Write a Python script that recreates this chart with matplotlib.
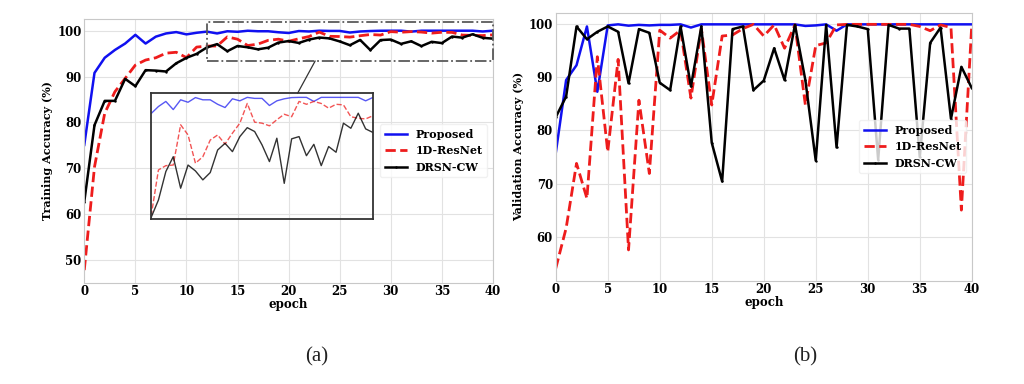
import numpy as np
import matplotlib.pyplot as plt
from matplotlib.patches import Rectangle, ConnectionPatch

plt.rcParams['font.family'] = 'DejaVu Serif'
plt.rcParams['font.weight'] = 'bold'

epochs = np.arange(41)

# (a) training accuracy (%)
train_proposed = [75.1, 90.8, 94.1, 95.8, 97.2, 99.1, 97.2, 98.7, 99.4, 99.7,
                  99.2, 99.55, 99.8, 99.4, 99.88, 99.76, 99.99, 99.88, 99.88, 99.66,
                  99.5, 99.93, 99.83, 100.0, 99.95, 99.95, 99.6, 99.83, 99.93, 99.99,
                  100.0, 100.0, 99.8, 100.0, 100.0, 100.0, 100.0, 100.0, 100.0, 99.83,
                  100.0]
train_resnet = [47.8, 70.3, 82.0, 86.7, 89.6, 92.5, 93.6, 94.1, 95.1, 95.3,
                94.13, 96.43, 96.64, 96.67, 98.65, 98.15, 96.76, 97.08, 97.9, 98.15,
                97.7, 98.24, 98.73, 99.7, 98.78, 98.73, 98.6, 98.9, 99.17, 99.05,
                99.8, 99.66, 99.8, 99.7, 99.47, 99.66, 99.63, 99.05, 98.97, 98.94,
                99.1]
train_drsn = [62.7, 79.4, 84.7, 84.7, 89.5, 87.9, 91.4, 91.3, 91.1, 92.9,
              94.08, 94.95, 96.35, 97.08, 95.53, 96.67, 96.38, 95.94, 96.3, 97.41,
              97.74, 97.33, 98.07, 98.51, 98.32, 97.66, 96.84, 97.99, 95.77, 97.96,
              98.07, 97.13, 97.69, 96.64, 97.58, 97.3, 98.73, 98.48, 99.22, 98.45,
              98.27]

# (b) validation accuracy (%)
val_proposed = [75.7, 89.5, 92.3, 99.6, 87.3, 99.8, 100.0, 99.75, 99.9, 99.8,
                99.9, 99.9, 100.0, 99.4, 100.0, 100.0, 100.0, 100.0, 100.0, 100.0,
                100.0, 100.0, 100.0, 100.0, 99.7, 99.8, 100.0, 98.8, 100.0, 100.0,
                100.0, 100.0, 100.0, 100.0, 100.0, 100.0, 100.0, 100.0, 100.0, 100.0,
                100.0]
val_resnet = [54.0, 61.6, 73.8, 67.2, 93.9, 76.0, 93.4, 57.5, 85.7, 71.9,
              98.9, 97.4, 98.9, 86.1, 99.2, 84.8, 97.8, 98.0, 99.2, 100.0,
              97.8, 99.9, 95.5, 99.9, 84.8, 96.0, 96.5, 99.9, 100.0, 100.0,
              100.0, 100.0, 100.0, 100.0, 100.0, 99.6, 98.8, 99.9, 99.4, 65.0,
              99.9]
val_drsn = [82.5, 86.4, 99.6, 97.2, 98.6, 99.6, 98.6, 88.9, 99.1, 98.4,
            89.0, 87.6, 99.6, 88.3, 99.6, 77.7, 70.4, 99.1, 99.6, 87.6,
            89.4, 95.5, 89.5, 99.9, 89.5, 74.3, 99.9, 76.8, 99.9, 99.6,
            99.1, 74.5, 99.9, 99.2, 99.2, 75.0, 96.5, 99.4, 82.2, 92.0,
            88.0]

labels = ['Proposed', '1D-ResNet', 'DRSN-CW']

fig = plt.figure(figsize=(10.24, 3.84), dpi=100)
ax1 = fig.add_axes([0.0823, 0.2638, 0.3991, 0.6867])
ax2 = fig.add_axes([0.5427, 0.2690, 0.4063, 0.6980])


def draw(ax, a, b, c):
    ax.plot(epochs, a, color='#1010f0', lw=1.8, label=labels[0])
    ax.plot(epochs, b, color='#ee1c1c', lw=2.0, ls='--', label=labels[1])
    ax.plot(epochs, c, color='black', lw=1.8, marker='.', markersize=1.5, label=labels[2])
    ax.set_xlim(0, 40)
    ax.set_xticks(range(0, 41, 5))
    ax.grid(True, color='#e2e2e2', lw=0.8)
    ax.set_axisbelow(True)
    ax.tick_params(length=0, pad=2, labelsize=8.5)
    for s in ax.spines.values():
        s.set_color('#c8c8c8')
        s.set_linewidth(0.8)
    ax.set_xlabel('epoch', fontsize=8.5, fontweight='bold', labelpad=0)
    ax.legend(loc='center right', framealpha=0.8, edgecolor='#eeeeee',
              prop={'weight': 'bold', 'size': 8})


draw(ax1, train_proposed, train_resnet, train_drsn)
ax1.set_ylim(45.05, 102.55)
ax1.set_yticks(range(50, 101, 10))
ax1.set_ylabel('Training Accuracy (%)', fontsize=8, fontweight='bold', labelpad=3)

draw(ax2, val_proposed, val_resnet, val_drsn)
ax2.set_ylim(51.7, 102.2)
ax2.set_yticks(range(60, 101, 10))
ax2.set_ylabel('Validation Accuracy (%)', fontsize=8, fontweight='bold', labelpad=3)

# zoom region marker and inset
ax1.add_patch(Rectangle((12, 93.4), 28, 8.56, fill=False, ls='-.', lw=1.3,
                        edgecolor='#5a5a5a', clip_on=False, zorder=5))
axin = fig.add_axes([0.1475, 0.4289, 0.2168, 0.3281])
axin.set_facecolor('none')
axin.plot(epochs, train_proposed, color='#2020f0', lw=1.0, alpha=0.75)
axin.plot(epochs, train_resnet, color='#ee1c1c', lw=1.0, ls='--', alpha=0.75)
axin.plot(epochs, train_drsn, color='black', lw=1.0, alpha=0.8)
axin.set_xlim(10, 40)
axin.set_ylim(94.0, 100.2)
axin.set_xticks([])
axin.set_yticks([])
for s in axin.spines.values():
    s.set_color('#333333')
    s.set_linewidth(1.3)
con = ConnectionPatch(xyA=(22.6, 93.4), coordsA=ax1.transData,
                      xyB=(0.66, 1.0), coordsB=axin.transAxes,
                      color='#333333', lw=0.9)
fig.add_artist(con)

fig.text(0.309, 0.07, '(a)', family='Liberation Serif', fontweight='normal',
         fontsize=15, ha='center', va='center', color='#222222')
fig.text(0.786, 0.07, '(b)', family='Liberation Serif', fontweight='normal',
         fontsize=15, ha='center', va='center', color='#222222')

fig.savefig('out.png', dpi=100)
